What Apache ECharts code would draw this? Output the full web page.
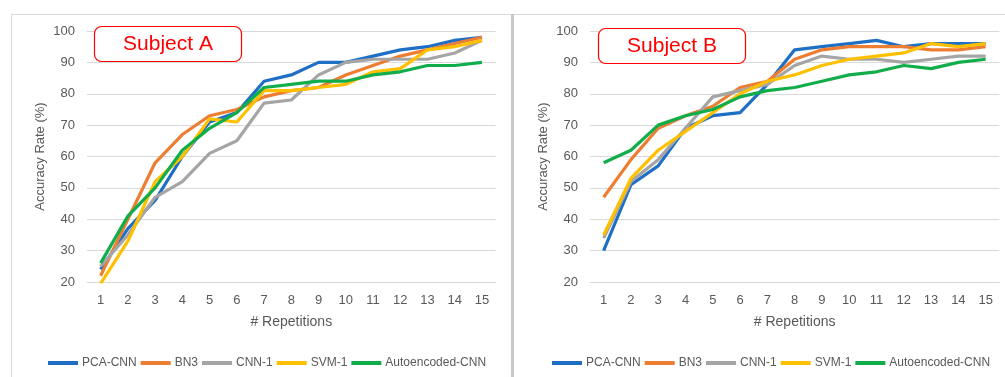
<!DOCTYPE html>
<html>
<head>
<meta charset="utf-8">
<script src="https://cdn.jsdelivr.net/npm/echarts@6/dist/echarts.min.js"></script>
<style>
html,body{margin:0;padding:0;background:#fff;}
#c{width:1005px;height:377px;}
</style>
</head>
<body>
<div id="c"></div>
<script>
const categories = ['1','2','3','4','5','6','7','8','9','10','11','12','13','14','15'];
const seriesNames = ['PCA-CNN','BN3','CNN-1','SVM-1','Autoencoded-CNN'];
const colors = ['#1f6fc5','#ed7d31','#a5a5a5','#ffc000','#12ad4b'];

// Subject A
const A_pca  = [24,37,46,60,71,74,84,86,90,90,92,94,95,97,98];
const A_bn3  = [22,40,58,67,73,75,79,81,82,86,89,92,94,96,98];
const A_cnn1 = [25,35,47,52,61,65,77,78,86,90,91,91,91,93,97];
const A_svm1 = [19.5,33,52,60,72,71,81,81,82,83,87,88,94,95,97];
const A_auto = [26,41,50,62,69,74,82,83,84,84,86,87,89,89,90];

// Subject B
const B_pca  = [30,51,57,69,73,74,83,94,95,96,97,95,96,96,96];
const B_bn3  = [47,59,69,73,76,82,84,91,94,95,95,95,94,94,95];
const B_cnn1 = [34,52,59,69,79,81,83,89,92,91,91,90,91,92,92];
const B_svm1 = [35,53,62,68,74,80,84,86,89,91,92,93,96,95,96];
const B_auto = [58,62,70,73,75,79,81,82,84,86,87,89,88,90,91];

const yTicks = {min:20, max:100, interval:10};
const panelTitles = ['Subject A','Subject B'];
const xName = '# Repetitions';
const yName = 'Accuracy Rate (%)';

const dataA = [A_pca,A_bn3,A_cnn1,A_svm1,A_auto];
const dataB = [B_pca,B_bn3,B_cnn1,B_svm1,B_auto];

const FONT2 = "'Liberation Sans',Arial,sans-serif";
const txt = '#595959';

function xAxis(gi){
  return {
    type:'category', gridIndex:gi, data:categories, boundaryGap:true,
    axisTick:{show:false},
    axisLine:{lineStyle:{color:'#d9d9d9',width:1}},
    axisLabel:{color:txt,fontSize:13,fontFamily:FONT2,margin:12},
    name:xName, nameLocation:'middle', nameGap:33,
    nameTextStyle:{color:txt,fontSize:14,fontFamily:FONT2}
  };
}
function yAxis(gi){
  return {
    type:'value', gridIndex:gi, min:yTicks.min, max:yTicks.max, interval:yTicks.interval,
    axisLine:{show:false}, axisTick:{show:false},
    splitLine:{lineStyle:{color:'#d9d9d9',width:1}},
    axisLabel:{color:txt,fontSize:13,fontFamily:FONT2,margin:12},
    name:yName, nameLocation:'middle', nameGap:40,
    nameTextStyle:{color:txt,fontSize:13,fontFamily:FONT2}
  };
}
const series = [];
[dataA,dataB].forEach((d,gi)=>{
  d.forEach((vals,i)=>{
    series.push({
      name:seriesNames[i], type:'line', xAxisIndex:gi, yAxisIndex:gi,
      data:vals, showSymbol:false, symbol:'none',
      lineStyle:{width:3.2,color:colors[i]}, itemStyle:{color:colors[i]},
      animation:false, z:2+i
    });
  });
});
function legend(left){
  return {
    left:left, top:352, icon:'rect', itemWidth:30, itemHeight:4, itemGap:4,
    textStyle:{color:txt,fontSize:12,fontFamily:FONT2,padding:[0,0,0,-1]},
    data:seriesNames
  };
}
const chart = echarts.init(document.getElementById('c'));
chart.setOption({
  backgroundColor:'#fff',
  animation:false,
  color:colors,
  grid:[
    {left:87, right:1005-495.6, top:31, bottom:95},
    {left:590, right:1005-999.3, top:31, bottom:95}
  ],
  xAxis:[xAxis(0),xAxis(1)],
  yAxis:[yAxis(0),yAxis(1)],
  legend:[legend(43),legend(547)],
  series:series,
  graphic:[
    {type:'line',shape:{x1:11,y1:14.5,x2:1005,y2:14.5},style:{stroke:'#d9d9d9',lineWidth:1}},
    {type:'line',shape:{x1:11.5,y1:14,x2:11.5,y2:377},style:{stroke:'#d9d9d9',lineWidth:1}},
    {type:'line',shape:{x1:512.5,y1:14,x2:512.5,y2:377},style:{stroke:'#c8c8c8',lineWidth:3}},
    {type:'rect',shape:{x:94.5,y:26.5,width:147,height:35,r:7},style:{fill:'#fff',stroke:'#ff0000',lineWidth:1.2},z:100},
    {type:'text',x:168,y:44,style:{text:panelTitles[0],fill:'#ff0000',font:"21px 'Liberation Sans',Arial,sans-serif",textAlign:'center',textVerticalAlign:'middle'},z:101},
    {type:'rect',shape:{x:598.5,y:28.5,width:147,height:35,r:7},style:{fill:'#fff',stroke:'#ff0000',lineWidth:1.2},z:100},
    {type:'text',x:672,y:46,style:{text:panelTitles[1],fill:'#ff0000',font:"21px 'Liberation Sans',Arial,sans-serif",textAlign:'center',textVerticalAlign:'middle'},z:101}
  ]
});
</script>
</body>
</html>
